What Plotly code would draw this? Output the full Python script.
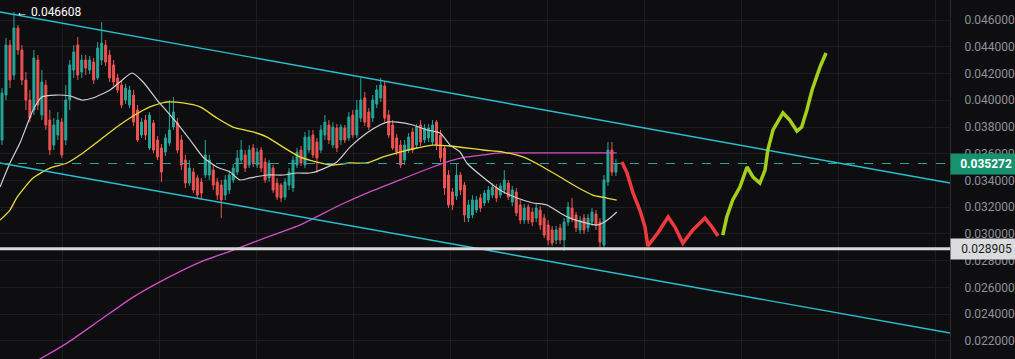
import plotly.graph_objects as go

# ---------------- data ----------------
opens = [0.03703,0.04039,0.04413,0.04189,0.04541,0.04376,0.04152,0.04002,0.03927,0.04301,
 0.03890,0.04114,0.03852,0.03665,0.03740,0.03837,0.03703,0.04002,0.04226,0.04413,
 0.04211,0.04301,0.04226,0.04286,0.04167,0.04301,0.04413,0.04339,0.04264,0.04167,
 0.04114,0.04002,0.03965,0.04039,0.03927,0.03740,0.03852,0.03643,0.03830,0.03703,
 0.03643,0.03613,0.03680,0.03800,0.03830,0.03703,0.03553,0.03381,0.03463,0.03419,
 0.03389,0.03441,0.03441,0.03478,0.03389,0.03366,0.03291,0.03329,0.03404,0.03463,
 0.03553,0.03591,0.03516,0.03643,0.03516,0.03628,0.03538,0.03419,0.03493,0.03381,
 0.03366,0.03276,0.03366,0.03344,0.03516,0.03628,0.03516,0.03628,0.03740,0.03688,
 0.03628,0.03740,0.03815,0.03665,0.03793,0.03703,0.03793,0.03718,0.03890,0.03740,
 0.03867,0.04017,0.03912,0.03867,0.03972,0.04017,0.04107,0.03890,0.03815,0.03718,
 0.03665,0.03553,0.03628,0.03763,0.03665,0.03815,0.03703,0.03718,0.03688,0.03837,
 0.03740,0.03643,0.03441,0.03314,0.03284,0.03441,0.03366,0.03119,0.03142,0.03179,
 0.03269,0.03232,0.03254,0.03291,0.03344,0.03291,0.03329,0.03381,0.03239,0.03314,
 0.03217,0.03104,0.03202,0.03164,0.03119,0.03179,0.03119,0.03067,0.03030,0.02955,
 0.03045,0.02955,0.03089,0.03194,0.03142,0.03030,0.03119,0.03045,0.03089,0.03149,
 0.03089,0.02917,0.03389,0.03628,0.03463]

closes = [0.04054,0.04413,0.04152,0.04541,0.04376,0.04152,0.04002,0.03867,0.04316,0.03965,
 0.04137,0.03815,0.03628,0.03815,0.03852,0.03591,0.04002,0.04264,0.04361,0.04189,
 0.04301,0.04241,0.04301,0.04152,0.04391,0.04428,0.04286,0.04167,0.04137,0.04077,
 0.03965,0.04092,0.04077,0.03837,0.03703,0.03837,0.03740,0.03890,0.03628,0.03576,
 0.03463,0.03718,0.03778,0.03912,0.03628,0.03516,0.03381,0.03493,0.03329,0.03291,
 0.03306,0.03591,0.03553,0.03366,0.03291,0.03254,0.03404,0.03441,0.03493,0.03568,
 0.03628,0.03493,0.03628,0.03531,0.03613,0.03493,0.03404,0.03531,0.03329,0.03276,
 0.03269,0.03389,0.03463,0.03553,0.03613,0.03531,0.03725,0.03725,0.03591,0.03568,
 0.03778,0.03837,0.03703,0.03800,0.03643,0.03800,0.03703,0.03875,0.03740,0.03927,
 0.04002,0.03837,0.03800,0.04002,0.04077,0.04114,0.03867,0.03740,0.03643,0.03613,
 0.03516,0.03665,0.03725,0.03628,0.03800,0.03688,0.03793,0.03793,0.03815,0.03665,
 0.03568,0.03344,0.03217,0.03217,0.03441,0.03329,0.03142,0.03217,0.03254,0.03254,
 0.03194,0.03306,0.03329,0.03351,0.03269,0.03359,0.03404,0.03276,0.03329,0.03157,
 0.03104,0.03194,0.03104,0.03089,0.03194,0.03067,0.02992,0.02955,0.02932,0.03030,
 0.02955,0.03089,0.03202,0.03119,0.03045,0.03104,0.03030,0.03119,0.03164,0.03067,
 0.02940,0.03404,0.03628,0.03463,0.035272]

highs = [0.04092,0.04466,0.04451,0.046608,0.04563,0.04413,0.04211,0.04077,0.04376,0.04339,
 0.04226,0.04152,0.03927,0.03867,0.03912,0.03867,0.04114,0.04301,0.04413,0.04473,
 0.04339,0.04339,0.04331,0.04316,0.04436,0.04585,0.04451,0.04376,0.04301,0.04196,
 0.04152,0.04122,0.04107,0.04077,0.03965,0.03867,0.03890,0.03912,0.03852,0.03733,
 0.03673,0.03748,0.04002,0.04024,0.03867,0.03740,0.03591,0.03553,0.03493,0.03441,
 0.03419,0.03703,0.03591,0.03516,0.03419,0.03404,0.03441,0.03478,0.03523,0.03628,
 0.03703,0.03628,0.03665,0.03673,0.03643,0.03650,0.03568,0.03553,0.03516,0.03419,
 0.03381,0.03419,0.03493,0.03583,0.03643,0.03658,0.03763,0.03778,0.03778,0.03718,
 0.03815,0.03890,0.03852,0.03837,0.03822,0.03822,0.03815,0.03912,0.03927,0.04002,
 0.04167,0.04062,0.03942,0.04039,0.04114,0.04167,0.04137,0.03927,0.03852,0.03748,
 0.03703,0.03703,0.03755,0.03793,0.03822,0.03852,0.03822,0.03822,0.03852,0.03852,
 0.03778,0.03665,0.03478,0.03344,0.03531,0.03463,0.03389,0.03254,0.03291,0.03284,
 0.03299,0.03329,0.03359,0.03381,0.03374,0.03381,0.03478,0.03404,0.03359,0.03344,
 0.03254,0.03224,0.03224,0.03194,0.03224,0.03209,0.03149,0.03104,0.03060,0.03060,
 0.03075,0.03119,0.03239,0.03269,0.03164,0.03134,0.03149,0.03149,0.03194,0.03179,
 0.03119,0.03441,0.03688,0.03688,0.03561]

lows = [0.03665,0.04002,0.04092,0.04152,0.04339,0.04114,0.03927,0.03837,0.03890,0.03927,
 0.03852,0.03778,0.03591,0.03628,0.03703,0.03568,0.03665,0.03927,0.04167,0.04152,
 0.04167,0.04189,0.04196,0.04122,0.04152,0.04264,0.04256,0.04137,0.04107,0.04054,
 0.03942,0.03972,0.03942,0.03808,0.03688,0.03718,0.03703,0.03628,0.03606,0.03553,
 0.03389,0.03583,0.03658,0.03778,0.03606,0.03478,0.03344,0.03359,0.03306,0.03269,
 0.03254,0.03419,0.03404,0.03329,0.03254,0.03119,0.03254,0.03299,0.03381,0.03441,
 0.03531,0.03463,0.03493,0.03501,0.03493,0.03463,0.03381,0.03389,0.03306,0.03254,
 0.03239,0.03254,0.03329,0.03314,0.03493,0.03508,0.03493,0.03606,0.03568,0.03456,
 0.03606,0.03703,0.03673,0.03643,0.03613,0.03665,0.03680,0.03695,0.03718,0.03718,
 0.03837,0.03808,0.03778,0.03837,0.03942,0.03987,0.03837,0.03718,0.03628,0.03591,
 0.03493,0.03516,0.03606,0.03606,0.03643,0.03658,0.03680,0.03688,0.03665,0.03628,
 0.03538,0.03291,0.03194,0.03179,0.03254,0.03291,0.03089,0.03089,0.03119,0.03157,
 0.03164,0.03209,0.03232,0.03269,0.03239,0.03269,0.03299,0.03254,0.03209,0.03134,
 0.03075,0.03075,0.03075,0.03060,0.03089,0.03030,0.02970,0.02917,0.02910,0.02925,
 0.02925,0.02873,0.03060,0.03089,0.03015,0.03000,0.03000,0.03015,0.03060,0.03030,
 0.02895,0.02880,0.03359,0.03434,0.03434]

# moving averages (in bar units)
white_x = [-0.5,2.0,4.5,7.8,10.0,13.3,17.1,20.1,22.8,27.1,29.6,32.6,35.4,38.9,40.4,43.9,47.2,50.4,
           53.9,57.2,59.7,62.2,66.5,70.5,74.0,77.3,79.8,84.0,87.3,91.5,94.8,96.6,99.1,103.1,106.6,
           109.9,112.4,114.9,116.6,120.6,124.9,129.2,133.2,136.7,140.0,142.5,145.7,149.2,150.7,152.5,154.2]
white_y = [0.03351,0.03531,0.03680,0.03927,0.04024,0.04039,0.04032,0.04002,0.04017,0.04077,0.04137,
           0.04204,0.04137,0.04002,0.03950,0.03830,0.03703,0.03576,0.03501,0.03463,0.03404,0.03419,
           0.03441,0.03441,0.03456,0.03456,0.03478,0.03538,0.03650,0.03755,0.03815,0.03837,0.03837,
           0.03815,0.03778,0.03755,0.03665,0.03613,0.03531,0.03426,0.03329,0.03269,0.03232,0.03217,
           0.03157,0.03119,0.03089,0.03067,0.03082,0.03119,0.03164]

yellow_x = [-0.5,2.0,3.8,7.8,12.0,16.3,20.3,24.6,28.8,32.9,37.1,41.4,45.4,49.7,53.9,57.9,63.0,66.5,
            70.5,74.7,79.0,83.0,87.3,91.5,95.6,99.8,104.1,108.1,112.4,120.6,125.7,130.7,135.7,140.0,
            144.2,148.2,151.7,154.2]
yellow_y = [0.03104,0.03179,0.03276,0.03419,0.03493,0.03531,0.03606,0.03703,0.03800,0.03882,0.03950,
            0.03987,0.03980,0.03950,0.03867,0.03800,0.03763,0.03725,0.03650,0.03576,0.03538,0.03516,
            0.03531,0.03531,0.03576,0.03613,0.03643,0.03665,0.03658,0.03628,0.03613,0.03576,0.03501,
            0.03426,0.03351,0.03291,0.03269,0.03254]

magenta_x = [5.8,9.5,16.3,24.6,32.9,41.4,49.7,58.0,66.5,74.7,84.8,91.5,99.8,108.1,112.4,116.6,
             120.6,124.9,137.4,145.7,154.2]
magenta_y = [0.02005,0.02065,0.02184,0.02356,0.02528,0.02670,0.02790,0.02880,0.02977,0.03067,
             0.03217,0.03306,0.03404,0.03501,0.03546,0.03576,0.03591,0.03606,0.03606,0.03606,0.03606]

# hand-drawn projections
red_x = [155.5,156.8,158.3,160.0,161.3,162.0,164.5,167.1,168.8,170.8,173.3,176.3,178.1,179.6]
red_y = [0.03538,0.03456,0.03306,0.03179,0.03052,0.02910,0.03007,0.03127,0.03052,0.02932,
         0.03030,0.03119,0.03052,0.02985]
green_x = [180.8,181.8,183.3,185.1,186.9,188.4,190.1,191.4,192.1,193.4,195.9,197.6,199.4,200.6,
           201.9,203.2,205.2,206.7]
green_y = [0.02992,0.03127,0.03254,0.03351,0.03501,0.03426,0.03381,0.03478,0.03628,0.03778,
           0.03905,0.03852,0.03770,0.03800,0.03927,0.04077,0.04249,0.04354]

# channel trend lines
channel_x = [-0.5, 237.8]
upper_y = [0.04660, 0.03381]
lower_y = [0.03531, 0.02259]

current_price = 0.035272
support_level = 0.028905
high_mark = 0.046608
high_bar = 3

# ---------------- figure ----------------
BG = "#0e0e10"
GRID = "#1c1d21"
bars = list(range(len(opens)))

fig = go.Figure()

fig.add_trace(go.Scatter(x=magenta_x, y=magenta_y, mode="lines",
                         line=dict(color="#d24fc6", width=1.3, shape="spline", smoothing=0.6),
                         hoverinfo="skip"))

fig.add_trace(go.Candlestick(
    x=bars, open=opens, high=highs, low=lows, close=closes,
    increasing=dict(line=dict(color="#26a69a", width=1), fillcolor="#26a69a"),
    decreasing=dict(line=dict(color="#ef5350", width=1), fillcolor="#ef5350"),
    whiskerwidth=0,
))

fig.add_trace(go.Scatter(x=yellow_x, y=yellow_y, mode="lines",
                         line=dict(color="#e8dc3a", width=1.3, shape="spline", smoothing=0.6),
                         hoverinfo="skip"))
fig.add_trace(go.Scatter(x=white_x, y=white_y, mode="lines",
                         line=dict(color="#d0d0d0", width=1.2, shape="spline", smoothing=0.6),
                         hoverinfo="skip"))

for yy in (upper_y, lower_y):
    fig.add_trace(go.Scatter(x=channel_x, y=yy, mode="lines",
                             line=dict(color="#29bfcf", width=1.4), hoverinfo="skip"))

fig.add_trace(go.Scatter(x=red_x, y=red_y, mode="lines",
                         line=dict(color="#f0393c", width=3.5), hoverinfo="skip"))
fig.add_trace(go.Scatter(x=green_x, y=green_y, mode="lines",
                         line=dict(color="#a3cf1c", width=3.5), hoverinfo="skip"))

# horizontal levels
fig.add_shape(type="line", xref="paper", x0=0, x1=1, yref="y", y0=current_price, y1=current_price,
              line=dict(color="#26a69a", width=1, dash="dash"))
fig.add_shape(type="line", xref="paper", x0=0, x1=1, yref="y", y0=support_level, y1=support_level,
              line=dict(color="#d6d8dc", width=3))

# price labels on the axis
fig.add_annotation(xref="paper", x=1, xanchor="left", yref="y", y=current_price, yanchor="middle",
                   text="<b>%.6f</b>" % current_price, showarrow=False, align="right",
                   width=58, borderpad=3, bgcolor="#16926f",
                   font=dict(color="#ffffff", size=12, family="Roboto"))
fig.add_annotation(xref="paper", x=1, xanchor="left", yref="y", y=support_level, yanchor="middle",
                   text="%.6f" % support_level, showarrow=False, align="right",
                   width=58, borderpad=3, bgcolor="#dadbdd",
                   font=dict(color="#1a1c22", size=12, family="Roboto"))

# high marker
fig.add_annotation(x=high_bar, y=high_mark, xref="x", yref="y", xanchor="left", yanchor="middle",
                   text="\u2190 %.6f" % high_mark, showarrow=False,
                   font=dict(color="#ffffff", size=12, family="Roboto"))

fig.update_layout(
    width=1015, height=359,
    margin=dict(l=0, r=65, t=0, b=0),
    paper_bgcolor=BG, plot_bgcolor=BG,
    showlegend=False,
    hovermode=False,
    xaxis=dict(range=[-0.5, 237.8], rangeslider=dict(visible=False),
               showgrid=True, gridcolor=GRID, gridwidth=1,
               tick0=15.3, dtick=24.33, showticklabels=False, zeroline=False,
               ticks=""),
    yaxis=dict(range=[0.02065, 0.0475], side="right", showgrid=True, gridcolor=GRID,
               tick0=0, dtick=0.002, tickformat=".6f", zeroline=False,
               tickfont=dict(color="#8e929b", size=12, family="Roboto"),
               ticks="", ticklabelstandoff=11,
               showline=True, linecolor="#2a2b30", linewidth=1, mirror=False),
)

fig.write_html("out.html",
               config={"displayModeBar": False},
               post_script="document.body.style.margin='0';document.body.style.background='#0e0e10';")
